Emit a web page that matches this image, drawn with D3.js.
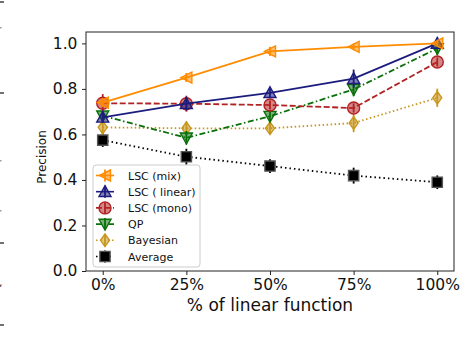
<!DOCTYPE html>
<html>
<head>
<meta charset="utf-8">
<script src="https://cdn.jsdelivr.net/npm/d3@7"></script>
<style>
body { margin: 0; background: #fff; }
svg { display: block; font-family: "DejaVu Sans", sans-serif; }
</style>
</head>
<body>
<svg width="460" height="338"></svg>
<script>
// data
var categories = ["0%", "25%", "50%", "75%", "100%"];
var yTicks = [0.0, 0.2, 0.4, 0.6, 0.8, 1.0];

var mixVals     = [0.74, 0.85, 0.965, 0.985, 1.0];
var linearVals  = [0.675, 0.735, 0.783, 0.845, 1.0];
var monoVals    = [0.737, 0.735, 0.729, 0.716, 0.918];
var qpVals      = [0.682, 0.585, 0.68, 0.798, 0.978];
var bayesVals   = [0.631, 0.627, 0.627, 0.65, 0.761];
var averageVals = [0.575, 0.502, 0.461, 0.419, 0.39];

var mixErr     = [0.02, 0.02, 0.02, 0.015, 0.01];
var linearErr  = [0.02, 0.03, 0.02, 0.04, 0.01];
var monoErr    = [0.04, 0.035, 0.02, 0.02, 0.02];
var qpErr      = [0.03, 0.03, 0.025, 0.03, 0.03];
var bayesErr   = [0.03, 0.03, 0.025, 0.04, 0.04];
var averageErr = [0.03, 0.035, 0.03, 0.035, 0.03];

var series = [
  {name: "LSC (mix)",     vals: mixVals,     err: mixErr,     color: "#ff8c00", dash: null,        marker: "left"},
  {name: "LSC ( linear)", vals: linearVals,  err: linearErr,  color: "#1c1c7e", dash: null,        marker: "up"},
  {name: "LSC (mono)",    vals: monoVals,    err: monoErr,    color: "#b22222", dash: "6,2.5",     marker: "circle"},
  {name: "QP",            vals: qpVals,      err: qpErr,      color: "#0a700a", dash: "6,2.5,1.5,2.5", marker: "down"},
  {name: "Bayesian",      vals: bayesVals,   err: bayesErr,   color: "#c8961e", dash: "1.5,2.5",   marker: "diamond"},
  {name: "Average",       vals: averageVals, err: averageErr, color: "#000000", dash: "1.5,3",     marker: "square"}
];

var svg = d3.select("svg");
var margin = {top: 32, right: 6, bottom: 67, left: 86};
var width = 454 - margin.left;
var height = 271 - margin.top;

var xScale = d3.scaleLinear().domain([-0.2, 4.2]).range([0, width]);
var yScale = d3.scaleLinear().domain([0, 1.05]).range([height, 0]);

// leftover marks from the neighbouring figure at the left edge
var edgeMarks = [2, 93, 243, 325];
svg.selectAll(".edge").data(edgeMarks).enter().append("line")
  .attr("x1", 0).attr("x2", 4).attr("y1", function(d){ return d; }).attr("y2", function(d){ return d; })
  .attr("stroke", "#222").attr("stroke-width", 1.3);
svg.selectAll(".edgedot").data([27, 160, 210]).enter().append("rect")
  .attr("x", 0).attr("y", function(d){ return d; }).attr("width", 1.5).attr("height", 1.5).attr("fill", "#999");
svg.append("text").attr("x", -1).attr("y", 286).attr("font-size", 11).attr("fill", "#222").text(",");

var g = svg.append("g").attr("transform", "translate(" + margin.left + "," + margin.top + ")");

function markerPath(type, s) {
  if (type == "left")    return "M" + (-s) + ",0L" + s + "," + (-s) + "L" + s + "," + s + "Z";
  if (type == "up")      return "M0," + (-s) + "L" + s + "," + (s*0.8) + "L" + (-s) + "," + (s*0.8) + "Z";
  if (type == "down")    return "M0," + s + "L" + s + "," + (-s*0.8) + "L" + (-s) + "," + (-s*0.8) + "Z";
  if (type == "diamond") return "M0," + (-s*1.05) + "L" + (s*0.75) + ",0L0," + (s*1.05) + "L" + (-s*0.75) + ",0Z";
  if (type == "square")  return "M" + (-s*0.85) + "," + (-s*0.85) + "h" + (s*1.7) + "v" + (s*1.7) + "h" + (-s*1.7) + "Z";
  return d3.symbol().type(d3.symbolCircle).size(Math.PI * s * s)();
}

function drawMarker(sel, s, x, y) {
  var m = sel.append("g").attr("transform", "translate(" + x + "," + y + ")");
  m.append("path").attr("d", markerPath(s.marker, s.marker == "left" ? 5.5 : 6))
    .attr("fill", s.color).attr("fill-opacity", s.marker == "square" ? 1 : 0.55)
    .attr("stroke", s.marker == "square" ? "#555" : s.color).attr("stroke-width", 1.4);
  return m;
}

var line = d3.line()
  .x(function(d, i) { return xScale(i); })
  .y(function(d) { return yScale(d); });

// draw from last to first so the top legend entries sit on top
series.slice().reverse().forEach(function(s) {
  g.append("path").datum(s.vals)
    .attr("d", line)
    .attr("fill", "none")
    .attr("stroke", s.color)
    .attr("stroke-width", 1.8)
    .attr("stroke-dasharray", s.dash);

  g.selectAll(null).data(s.vals).enter().append("line")
    .attr("x1", function(d, i) { return xScale(i); })
    .attr("x2", function(d, i) { return xScale(i); })
    .attr("y1", function(d, i) { return yScale(d + s.err[i]); })
    .attr("y2", function(d, i) { return yScale(d - s.err[i]); })
    .attr("stroke", s.color).attr("stroke-width", 1.8);

  s.vals.forEach(function(d, i) { drawMarker(g, s, xScale(i), yScale(d)); });
});

// frame
g.append("rect").attr("x", 0).attr("y", 0).attr("width", width).attr("height", height)
  .attr("fill", "none").attr("stroke", "#222").attr("stroke-width", 1);

var xAxis = d3.axisBottom(xScale).tickValues([0, 1, 2, 3, 4])
  .tickFormat(function(d) { return categories[d]; }).tickSize(4).tickSizeOuter(0);
var yAxis = d3.axisLeft(yScale).tickValues(yTicks)
  .tickFormat(d3.format(".1f")).tickSize(4).tickSizeOuter(0);

var xa = g.append("g").attr("transform", "translate(0," + height + ")").call(xAxis);
var ya = g.append("g").call(yAxis);
[xa, ya].forEach(function(a) {
  a.select(".domain").remove();
  a.selectAll("line").attr("stroke", "#222");
  a.selectAll("text").attr("font-size", 15.5).attr("fill", "#111").attr("font-family", "DejaVu Sans");
});
xa.selectAll("text").attr("dy", "0.8em");
ya.selectAll("text").attr("dx", "-0.1em");

svg.append("text")
  .attr("x", 270).attr("y", 311)
  .attr("text-anchor", "middle")
  .attr("font-size", 17).attr("fill", "#111")
  .text("% of linear function");

svg.append("text")
  .attr("transform", "translate(46,157) rotate(-90)")
  .attr("text-anchor", "middle")
  .attr("font-size", 12).attr("fill", "#111")
  .text("Precision");

// legend
var legend = svg.append("g").attr("transform", "translate(93,165)");
legend.append("rect").attr("width", 107).attr("height", 102).attr("rx", 3)
  .attr("fill", "#fff").attr("fill-opacity", 0.85).attr("stroke", "#ccc");

series.forEach(function(s, i) {
  var y = 10.5 + i * 16.2;
  var row = legend.append("g");
  row.append("line").attr("x1", 3).attr("x2", 21).attr("y1", y).attr("y2", y)
    .attr("stroke", s.color).attr("stroke-width", 1.6).attr("stroke-dasharray", s.dash);
  row.append("line").attr("x1", 12).attr("x2", 12).attr("y1", y - 6).attr("y2", y + 6)
    .attr("stroke", s.color).attr("stroke-width", 1.8);
  drawMarker(row, s, 12, y);
  row.append("text").attr("x", 35).attr("y", y + 4)
    .attr("font-size", 11).attr("fill", "#111").text(s.name);
});
</script>
</body>
</html>
